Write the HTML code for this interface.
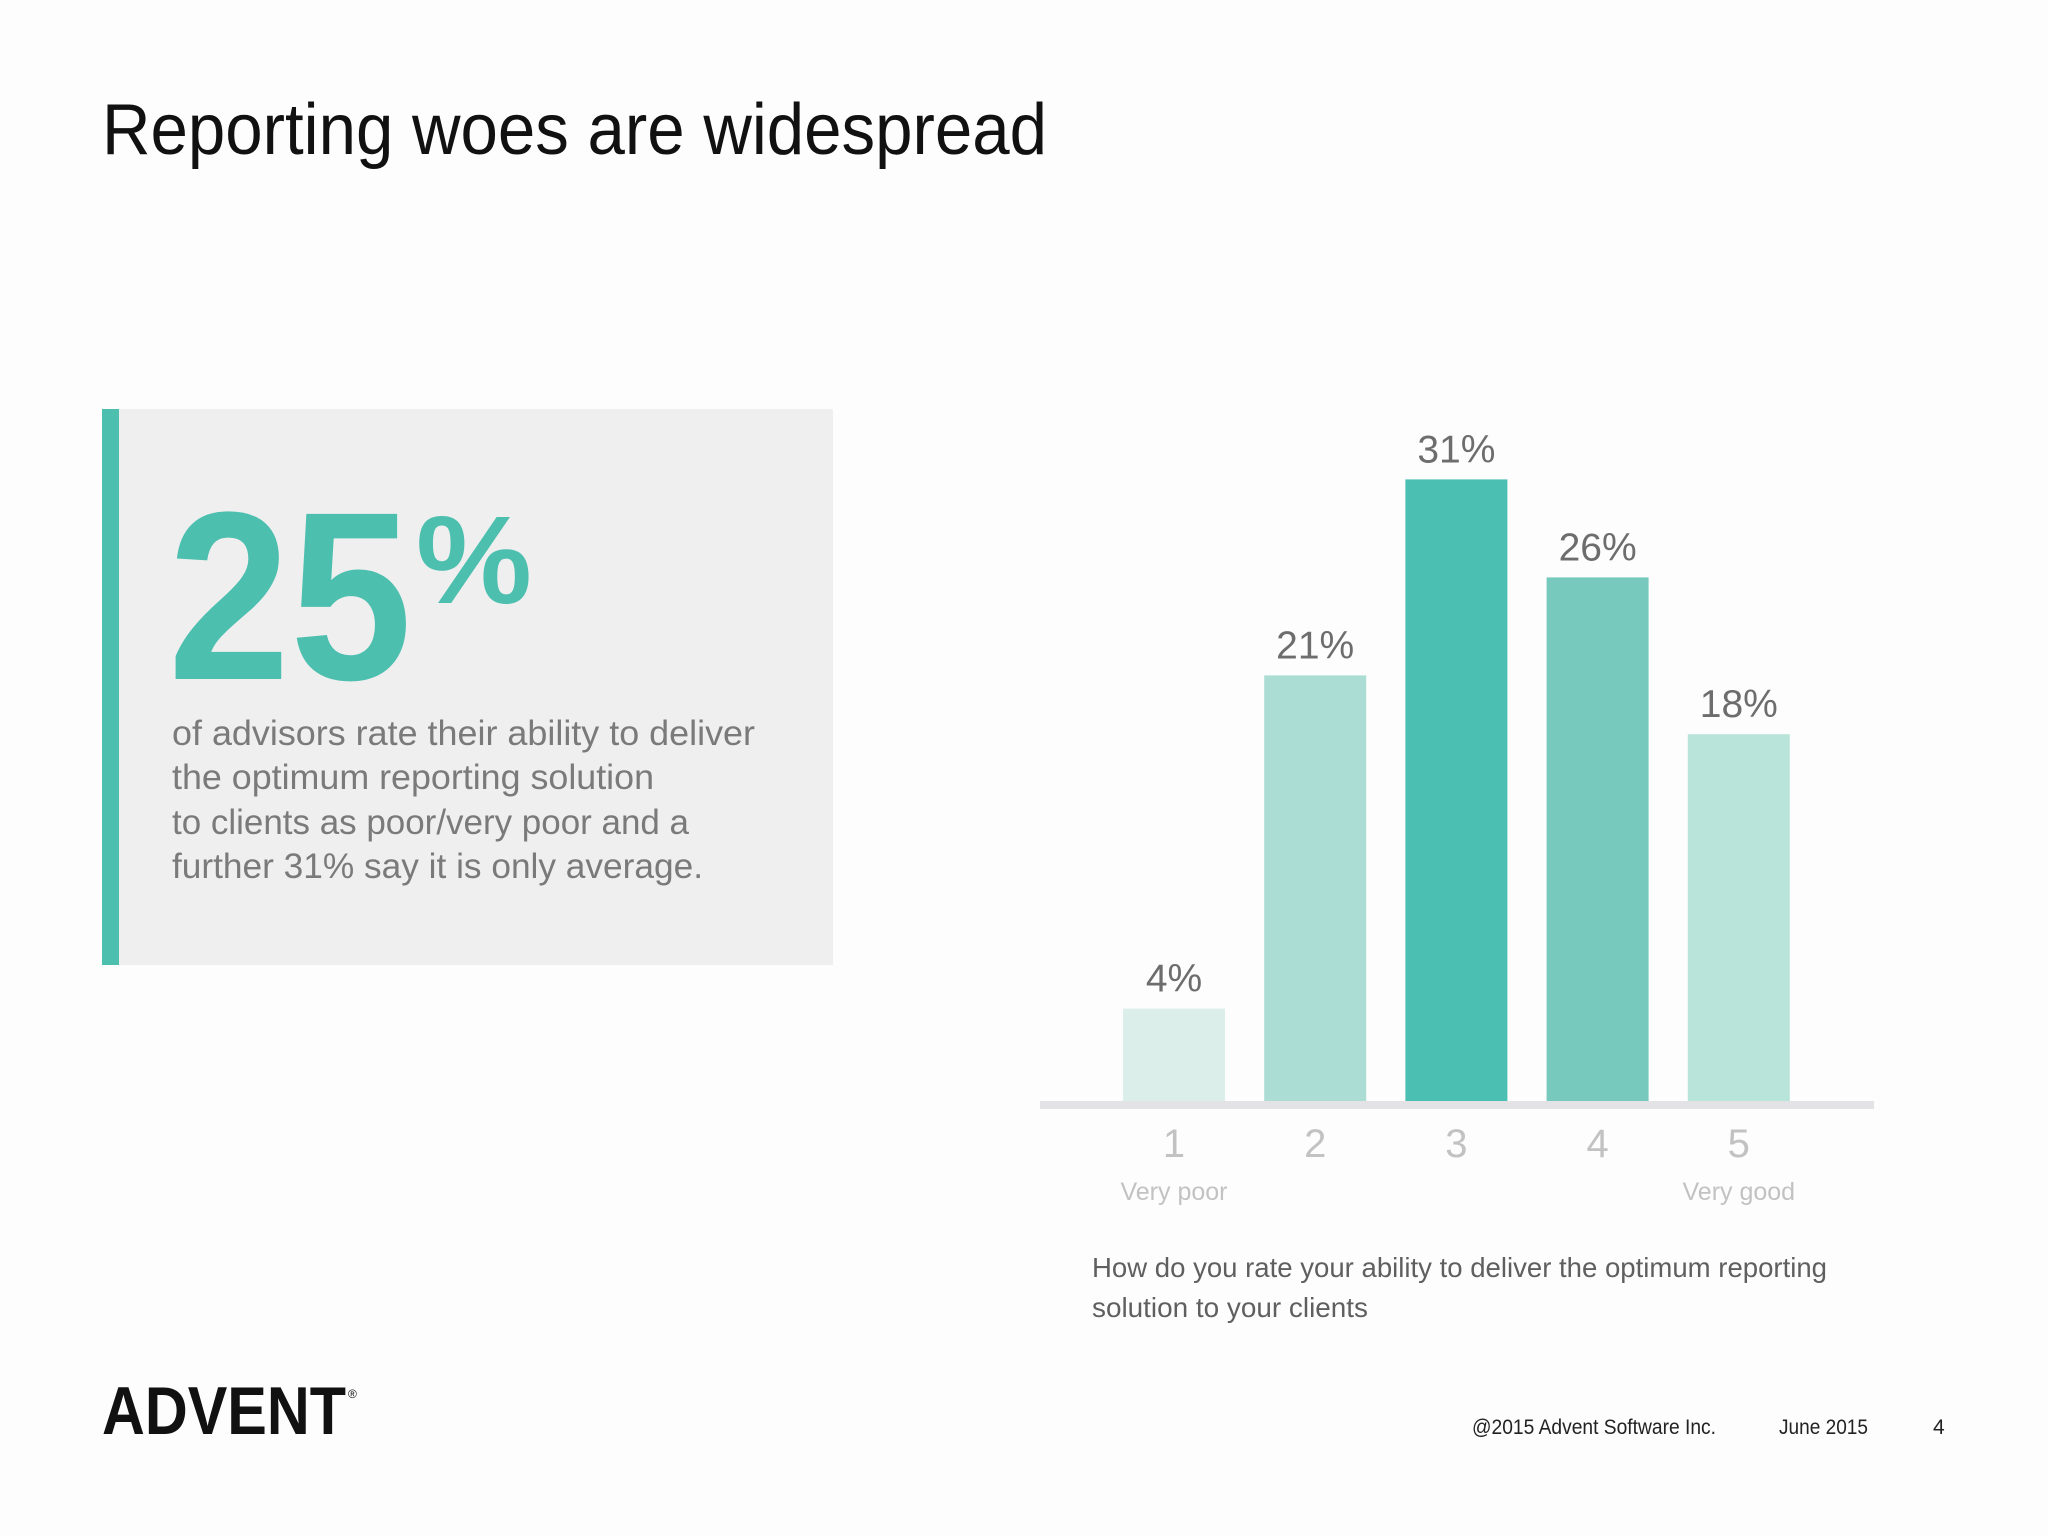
<!DOCTYPE html>
<html><head><meta charset="utf-8"><style>
html,body{margin:0;padding:0;background:#fdfdfd;}
svg{display:block;font-family:"Liberation Sans",sans-serif;}
</style></head><body>
<svg width="2048" height="1536" viewBox="0 0 2048 1536">
<rect x="0" y="0" width="2048" height="1536" fill="#fdfdfd"/>
<text x="102" y="154" font-size="72" fill="#111" textLength="945" lengthAdjust="spacingAndGlyphs">Reporting woes are widespread</text>
<g>
<rect x="102" y="409" width="731" height="556" fill="#efeff0"/>
<rect x="102" y="409" width="17" height="556" fill="#4cbfae"/>
<text x="168" y="679" font-size="240" font-weight="bold" fill="#4cbfae" textLength="244" lengthAdjust="spacingAndGlyphs">25</text>
<text x="416" y="603" font-size="125" font-weight="bold" fill="#4cbfae" textLength="116" lengthAdjust="spacingAndGlyphs">%</text>
<g font-size="35" fill="#7a7a7a">
<text x="172" y="745" textLength="583" lengthAdjust="spacingAndGlyphs">of advisors rate their ability to deliver</text>
<text x="172" y="789" textLength="482" lengthAdjust="spacingAndGlyphs">the optimum reporting solution</text>
<text x="172" y="834" textLength="517" lengthAdjust="spacingAndGlyphs">to clients as poor/very poor and a</text>
<text x="172" y="878" textLength="531" lengthAdjust="spacingAndGlyphs">further 31% say it is only average.</text>
</g>
</g>
<g id="chart"></g>
<g font-size="28" fill="#5f5f5f">
<text x="1092" y="1277" textLength="735" lengthAdjust="spacingAndGlyphs">How do you rate your ability to deliver the optimum reporting</text>
<text x="1092" y="1317" textLength="276" lengthAdjust="spacingAndGlyphs">solution to your clients</text>
</g>
<text x="102" y="1434" font-size="68" font-weight="bold" fill="#111" textLength="244" lengthAdjust="spacingAndGlyphs">ADVENT</text>
<text x="348" y="1398" font-size="12" fill="#111">®</text>
<text x="1472" y="1434" font-size="21" fill="#222" textLength="244" lengthAdjust="spacingAndGlyphs">@2015 Advent Software Inc.</text>
<text x="1779" y="1434" font-size="21" fill="#222" textLength="89" lengthAdjust="spacingAndGlyphs">June 2015</text>
<text x="1933" y="1434" font-size="21" fill="#222">4</text>
</svg>
<script>
const categories = ["1","2","3","4","5"];
const values = [4,21,31,26,18];
const valueLabels = ["4%","21%","31%","26%","18%"];
const subLabels = ["Very poor","","","","Very good"];
const colors = ["#dbeee9","#acddd5","#4bbfb2","#78c9bd","#b9e4da"];
const NS="http://www.w3.org/2000/svg";
const g=document.getElementById('chart');
const baseY=1101, pxPer=19.6, offset=14, x0=1123, pitch=141.2, bw=102;
function xPos(i){return x0+i*pitch;}
function yPos(v){return baseY-offset-v*pxPer;}
function mk(tag,attrs){const e=document.createElementNS(NS,tag);for(const k in attrs)e.setAttribute(k,attrs[k]);g.appendChild(e);return e;}
values.forEach((v,i)=>{
  const r=mk('rect',{x:xPos(i),y:yPos(v),width:bw,height:baseY-yPos(v),fill:colors[i]});
  
  
  const t=mk('text',{x:xPos(i)+bw/2,y:yPos(v)-17,'font-size':39,fill:'#6d6d6d','text-anchor':'middle'});
  t.textContent=valueLabels[i];
  
  
  const c=mk('text',{x:xPos(i)+bw/2,y:1157,'font-size':40,fill:'#c2c2c2','text-anchor':'middle'});
  c.textContent=categories[i];
  
  
  if(subLabels[i]){
    const s=mk('text',{x:xPos(i)+bw/2,y:1200,'font-size':25,fill:'#c2c2c2','text-anchor':'middle'});
    s.textContent=subLabels[i];
    
    
  }
});
const ax=mk('rect',{x:1040,y:1101,width:834,height:8,fill:'#e3e3e5'});


</script>
</body></html>
